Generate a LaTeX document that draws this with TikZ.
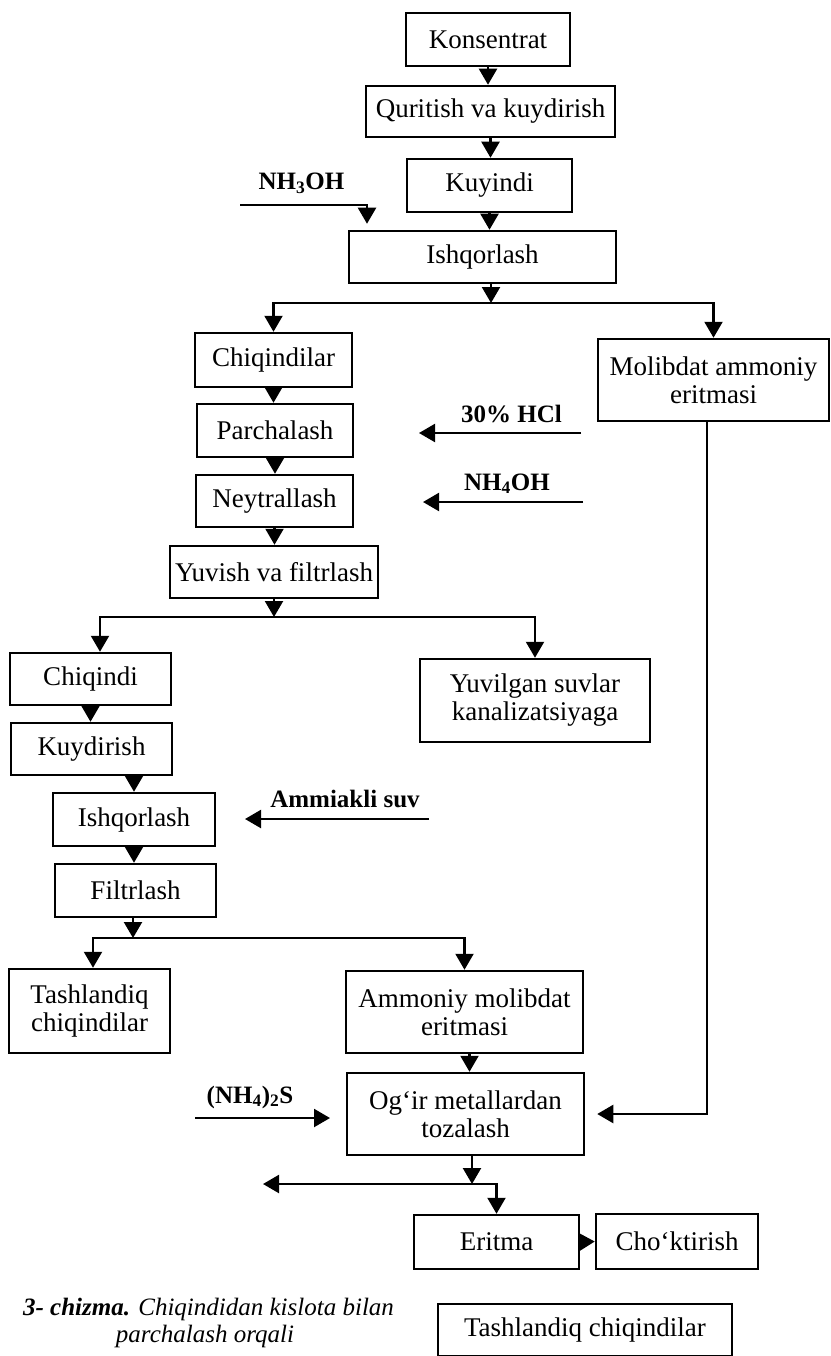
\documentclass[tikz,border=0pt]{standalone}
\usepackage{fontspec}
\setmainfont{Liberation Serif}
\usetikzlibrary{arrows.meta,calc}
\begin{document}
\begin{tikzpicture}[x=1pt,y=-1pt,
  box/.style={draw, line width=2.5pt, inner sep=0pt, align=center, font=\fontsize{27}{28}\selectfont},
  lbl/.style={font=\fontsize{25}{28}\selectfont\bfseries, inner sep=0pt, anchor=base},
  captext/.style={font=\fontsize{25}{27}\selectfont\itshape, inner sep=0pt, anchor=base},
  arr/.style={line width=2.2pt, -{Triangle[width=18pt,length=16pt]}},
]
\useasboundingbox (0,0) rectangle (830,1356);
% boxes
\node[box, minimum width=164pt, minimum height=53pt] (konc) at (488,39.5) {Konsentrat};
\node[box, minimum width=249pt, minimum height=51pt] (qur) at (490.5,111.5) {Quritish va kuydirish};
\node[box, minimum width=165pt, minimum height=53pt] (kuy) at (489.5,185.5) {Kuyindi};
\node[box, minimum width=267pt, minimum height=52pt] (ish1) at (482.5,257) {Ishqorlash};
\node[box, minimum width=157pt, minimum height=54pt] (chiq1) at (273.5,360) {Chiqindilar};
\node[box, minimum width=231pt, minimum height=82pt] (molib) at (713.5,380) {Molibdat ammoniy\\eritmasi};
\node[box, minimum width=156pt, minimum height=53pt] (parch) at (275,430.5) {Parchalash};
\node[box, minimum width=157pt, minimum height=52pt] (neyt) at (274.5,501) {Neytrallash};
\node[box, minimum width=208pt, minimum height=52pt] (yuv) at (274,572) {Yuvish va filtrlash};
\node[box, minimum width=161pt, minimum height=52pt] (chiq2) at (90.5,679) {Chiqindi};
\node[box, minimum width=230pt, minimum height=83pt] (yuvil) at (535,700.5) {Yuvilgan suvlar\\kanalizatsiyaga};
\node[box, minimum width=161pt, minimum height=52pt] (kuyd) at (91.5,749) {Kuydirish};
\node[box, minimum width=162pt, minimum height=53pt] (ish2) at (134,819.5) {Ishqorlash};
\node[box, minimum width=161pt, minimum height=53pt] (filt) at (135.5,890.5) {Filtrlash};
\node[box, minimum width=161pt, minimum height=84pt] (tash1) at (89.5,1011) {Tashlandiq\\chiqindilar};
\node[box, minimum width=237pt, minimum height=82pt] (ammol) at (464.5,1012) {Ammoniy molibdat\\eritmasi};
\node[box, minimum width=237pt, minimum height=82pt] (ogir) at (465.5,1114) {Og‘ir metallardan\\tozalash};
\node[box, minimum width=165pt, minimum height=54pt] (erit) at (496.5,1242) {Eritma};
\node[box, minimum width=162pt, minimum height=55pt] (chok) at (677,1241.5) {Cho‘ktirish};
\node[box, minimum width=294pt, minimum height=52pt] (tash2) at (585,1330) {Tashlandiq chiqindilar};
% labels
\node[lbl] (lnh3) at (301.5,190) {NH\textsubscript{3}OH};
\node[lbl] (lhcl) at (511.5,422) {30\% HCl};
\node[lbl] (lnh4) at (507,490) {NH\textsubscript{4}OH};
\node[lbl] (lamm) at (345,807) {Ammiakli suv};
\node[lbl] (lnhs) at (250,1103) {(NH\textsubscript{4})\textsubscript{2}S};
\node[captext] (cap1) at (208.5,1315) {\textbf{3- chizma.} Chiqindidan kislota bilan};
\node[captext] (cap2) at (205,1342) {parchalash orqali};
% main chain
\draw[arr] (konc.south) -- (konc.south |- qur.north);
\draw[arr] (qur.south) -- (qur.south |- kuy.north);
\draw[arr] (kuy.south) -- (kuy.south |- ish1.north);
\coordinate (nh3s) at (240,205);
\draw[arr] (nh3s) -| ([xshift=-115.5pt,yshift=6pt]ish1.north);
% branch 1
\coordinate (b1) at (491,303);
\draw[arr] (ish1.south -| b1) -- (b1);
\draw[arr] (b1) -- (chiq1.north |- b1) -- (chiq1.north);
\draw[arr] (b1) -- (molib.north |- b1) -- (molib.north);
\draw[arr] (chiq1.south) -- (chiq1.south |- parch.north);
\draw[arr] (parch.south) -- (parch.south |- neyt.north);
\draw[arr] (neyt.south) -- (neyt.south |- yuv.north);
\coordinate (hclA) at (581,433); \coordinate (hclB) at (419,433);
\draw[arr] (hclA) -- (hclB);
\coordinate (nh4A) at (583,502); \coordinate (nh4B) at (423,502);
\draw[arr] (nh4A) -- (nh4B);
% branch 2
\coordinate (b2) at (274,617);
\draw[arr] (yuv.south -| b2) -- (b2);
\draw[arr] (b2) -- ([xshift=9.5pt]chiq2.north |- b2) -- ([xshift=9.5pt]chiq2.north);
\draw[arr] (b2) -- (yuvil.north |- b2) -- (yuvil.north);
\draw[arr] (chiq2.south) -- (chiq2.south |- kuyd.north);
\draw[arr] (kuyd.south -| ish2.north) -- (ish2.north);
\draw[arr] (ish2.south) -- (ish2.south |- filt.north);
\coordinate (amA) at (429,819); \coordinate (amB) at (245,819);
\draw[arr] (amA) -- (amB);
% branch 3
\coordinate (b3) at (133,938);
\draw[arr] (filt.south -| b3) -- (b3);
\draw[arr] (b3) -- ([xshift=3.5pt]tash1.north |- b3) -- ([xshift=3.5pt]tash1.north);
\draw[arr] (b3) -- (ammol.north |- b3) -- (ammol.north);
\draw[arr] ([xshift=5pt]ammol.south) -- ([xshift=5pt]ammol.south |- ogir.north);
\coordinate (nhsA) at (195,1118); \coordinate (nhsB) at (330,1118);
\draw[arr] (nhsA) -- (nhsB);
\draw[arr] ([xshift=-6.5pt]molib.south) |- ([xshift=12pt]ogir.east);
% branch 4
\coordinate (b4) at (472,1184);
\draw[arr] (ogir.south -| b4) -- (b4);
\coordinate (outL) at (263,1184);
\draw[arr] (b4) -- (outL);
\draw[arr] (b4) -| (erit.north);
\draw[arr] (erit.east) -- (chok.west);
\end{tikzpicture}
\end{document}
